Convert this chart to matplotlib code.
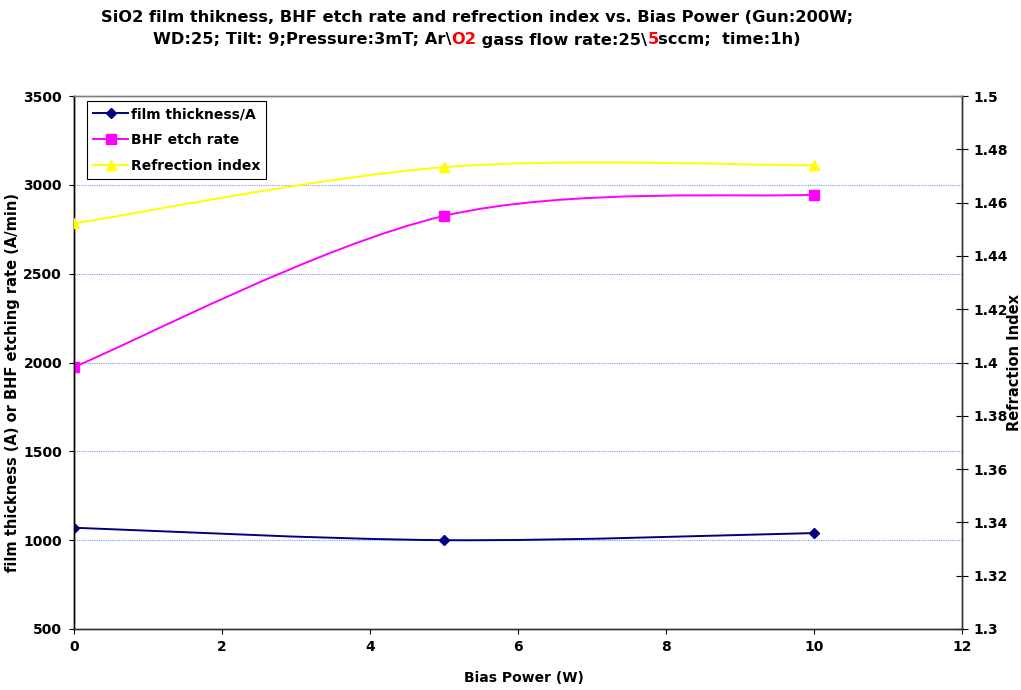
import numpy as np
import matplotlib
matplotlib.use("Agg")
import matplotlib.pyplot as plt
from matplotlib.path import Path
from matplotlib.patches import PathPatch
from matplotlib.lines import Line2D

# ---- data ----
bias_power = [0, 5, 10]
film_thickness = [1070, 1000, 1040]
bhf_etch_rate = [1975, 2825, 2945]
refraction_index = [1.4522, 1.4733, 1.4740]

series_labels = ["film thickness/A", "BHF etch rate", "Refrection index"]
x_ticks = [0, 2, 4, 6, 8, 10, 12]
left_ticks = [500, 1000, 1500, 2000, 2500, 3000, 3500]
right_ticks = [1.3, 1.32, 1.34, 1.36, 1.38, 1.4, 1.42, 1.44, 1.46, 1.48, 1.5]
right_tick_labels = ["1.3", "1.32", "1.34", "1.36", "1.38", "1.4", "1.42",
                     "1.44", "1.46", "1.48", "1.5"]

FONT = "DejaVu Sans"
plt.rcParams["font.family"] = [FONT]
plt.rcParams["font.weight"] = "bold"

W, H = 1021, 690
fig = plt.figure(figsize=(W / 100, H / 100), dpi=100)
fig.patch.set_facecolor("white")

L, R, T, B = 74, 962, 96, 629
ax = fig.add_axes([L / W, 1 - B / H, (R - L) / W, (B - T) / H])
ax2 = ax.twinx()


def smooth_path(xs, ys):
    """Cubic Bezier smoothing through the points (Excel-style)."""
    pts = np.column_stack([xs, ys]).astype(float)
    n = len(pts)
    verts = [pts[0]]
    codes = [Path.MOVETO]
    for i in range(n - 1):
        p0 = pts[max(i - 1, 0)]
        p1 = pts[i]
        p2 = pts[i + 1]
        p3 = pts[min(i + 2, n - 1)]
        c1 = p1 + (p2 - p0) / 6.0
        c2 = p2 - (p3 - p1) / 6.0
        verts += [c1, c2, p2]
        codes += [Path.CURVE4] * 3
    return Path(verts, codes)


def draw_series(axis, xs, ys, color, marker, ms, z):
    patch = PathPatch(smooth_path(xs, ys), facecolor="none", edgecolor=color,
                      lw=1.4, zorder=z)
    axis.add_patch(patch)
    axis.plot(xs, ys, ls="none", marker=marker, ms=ms, color=color,
              markeredgecolor=color, zorder=z + 1)


navy, magenta, yellow = "#000080", "#FF00FF", "#FFFF00"

draw_series(ax, bias_power, film_thickness, navy, "D", 5.5, 3)
draw_series(ax, bias_power, bhf_etch_rate, magenta, "s", 6.5, 3)
draw_series(ax2, bias_power, refraction_index, yellow, "^", 7, 3)

# axes ranges and ticks
ax.set_xlim(0, 12)
ax.set_ylim(500, 3500)
ax2.set_ylim(1.3, 1.5)
ax.set_xticks(x_ticks)
ax.set_xticklabels([str(v) for v in x_ticks])
ax.set_yticks(left_ticks)
ax.set_yticklabels([str(v) for v in left_ticks])
ax2.set_yticks(right_ticks)
ax2.set_yticklabels(right_tick_labels)

tick_fs = 10
ax.tick_params(axis="x", direction="out", length=3.6, width=0.8,
               colors="black", labelsize=tick_fs, pad=4)
ax.tick_params(axis="y", direction="out", length=3.6, width=0.8,
               colors="black", labelsize=tick_fs, pad=5)
ax2.tick_params(axis="y", direction="inout", length=8.6, width=0.8,
                colors="black", labelsize=tick_fs, pad=4)
for a in (ax, ax2):
    for lab in a.get_xticklabels() + a.get_yticklabels():
        lab.set_fontweight("bold")

# gridlines
for v in left_ticks[1:-1]:
    ax.axhline(v, color="#7d96ff", lw=0.8, ls=(0, (1, 1)), zorder=1)

# spines
for a in (ax, ax2):
    a.spines["top"].set_color("#808080")
    a.spines["left"].set_color("black")
    a.spines["bottom"].set_color("#303030")
    a.spines["right"].set_color("#303030")
    for s in a.spines.values():
        s.set_linewidth(1.0)
ax.set_facecolor("white")
ax2.patch.set_visible(False)

# axis titles
fig.text(524 / W, 1 - 678 / H, "Bias Power (W)", ha="center", va="center",
         fontsize=10, fontweight="bold")
fig.text(13 / W, 1 - 382 / H, "film thickness (A) or BHF etching rate (A/min)",
         ha="center", va="center", rotation=90, fontsize=10.5,
         fontweight="bold")
fig.text(1014 / W, 1 - 362 / H, "Refraction Index", ha="center", va="center",
         rotation=90, fontsize=10.5, fontweight="bold")

# legend
handles = [
    Line2D([], [], color=navy, lw=1.4, marker="D", ms=5.5),
    Line2D([], [], color=magenta, lw=1.4, marker="s", ms=6.5),
    Line2D([], [], color=yellow, lw=1.4, marker="^", ms=7),
]
leg = ax2.legend(handles, series_labels, loc="upper left",
                 bbox_to_anchor=((87 - L) / (R - L), 1 - (101 - T) / (B - T)),
                 borderaxespad=0, frameon=True, fancybox=False,
                 edgecolor="black", framealpha=1,
                 prop={"weight": "bold", "size": 10},
                 handlelength=2.5, handletextpad=0.2, labelspacing=0.85,
                 borderpad=0.45)
leg.get_frame().set_linewidth(0.8)
leg.set_zorder(10)

# two-line title with coloured fragments
title_lines = [
    [("SiO2 film thikness, BHF etch rate and refrection index vs. Bias Power (Gun:200W;", "black")],
    [("WD:25; Tilt: 9;Pressure:3mT; Ar\\", "black"), ("O2", "red"),
     (" gass flow rate:25\\", "black"), ("5", "red"),
     ("sccm;  time:1h)", "black")],
]
title_y = [17, 40]
title_cx = 477
title_fs = 11.7

fig.canvas.draw()
rend = fig.canvas.get_renderer()


def text_width(s):
    t1 = fig.text(0, 0, "|" + s + "|", fontsize=title_fs, fontweight="bold")
    t2 = fig.text(0, 0, "||", fontsize=title_fs, fontweight="bold")
    w = t1.get_window_extent(rend).width - t2.get_window_extent(rend).width
    t1.remove()
    t2.remove()
    return w


for parts, yc in zip(title_lines, title_y):
    widths = [text_width(s) for s, _ in parts]
    x = title_cx - sum(widths) / 2
    for (s, c), w in zip(parts, widths):
        fig.text(x / W, 1 - yc / H, s, color=c, fontsize=title_fs,
                 fontweight="bold", ha="left", va="center")
        x += w

fig.savefig("out.png", dpi=100, facecolor="white")
